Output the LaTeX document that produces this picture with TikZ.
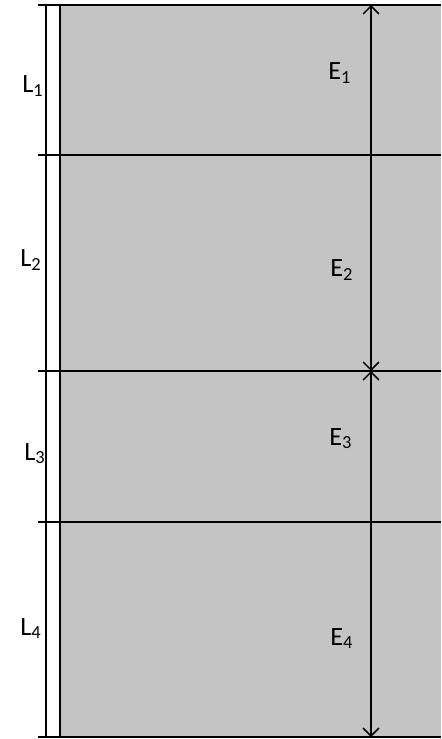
\documentclass[tikz,border=0pt]{standalone}
\usepackage{fontspec}
\setmainfont{Carlito}
\usetikzlibrary{arrows.meta}
\pgfdeclarelayer{bg}
\pgfsetlayers{bg,main}
\def\gprgb#1#2#3{rgb,255:red,#1;green,#2;blue,#3}

\begin{document}
\begin{tikzpicture}[x=0.02cm,y=-0.02cm,
  lbl/.style={anchor=base west,inner sep=0pt,font=\fontsize{15}{18}\selectfont},
  rule/.style={line width=0.9pt,color=black},
  wall/.style={line width=1.2pt,color=black},
  dim/.style={line width=0.9pt,{Straight Barb[length=4.5pt,width=9pt]}-{Straight Barb[length=4.5pt,width=9pt]}}]
\useasboundingbox (0,0) rectangle (441,739);

% Put the points...
\coordinate (a0) at (38,5);   \coordinate (b0) at (441,5);
\coordinate (a1) at (38,155); \coordinate (b1) at (441,155);
\coordinate (a2) at (38,371); \coordinate (b2) at (441,371);
\coordinate (a3) at (38,522); \coordinate (b3) at (441,522);
\coordinate (a4) at (38,737); \coordinate (b4) at (441,737);
\coordinate (w0) at (46,5);   \coordinate (w1) at (46,737);
\coordinate (g0) at (60,5);   \coordinate (g1) at (60,737);
\coordinate (e0) at (371,5);  \coordinate (e1) at (371,371);
\coordinate (e2) at (371,737);

% Draw the labels...
\node (L1) at (22,93) [lbl] {L\textsubscript{1}};
\node (L2) at (20,267) [lbl] {L\textsubscript{2}};
\node (L3) at (24,460) [lbl] {L\textsubscript{3}};
\node (L4) at (20,635) [lbl] {L\textsubscript{4}};
\node (E1) at (328,80) [lbl] {E\textsubscript{1}};
\node (E2) at (330,277) [lbl] {E\textsubscript{2}};
\node (E3) at (329,445) [lbl] {E\textsubscript{3}};
\node (E4) at (330,645) [lbl] {E\textsubscript{4}};

% Draw the lines...
\begin{pgfonlayer}{bg}
\fill[color=\gprgb{196}{196}{196}] (g0) rectangle (b4);
\end{pgfonlayer}
\draw[rule] (a0) -- (b0);
\draw[rule] (a1) -- (b1);
\draw[rule] (a2) -- (b2);
\draw[rule] (a3) -- (b3);
\draw[rule] (a4) -- (b4);
\draw[wall] (w0) -- (w1);
\draw[wall] (g0) -- (g1);
\draw[dim] (e0) -- (e1);
\draw[dim] (e1) -- (e2);

\end{tikzpicture}
\end{document}
